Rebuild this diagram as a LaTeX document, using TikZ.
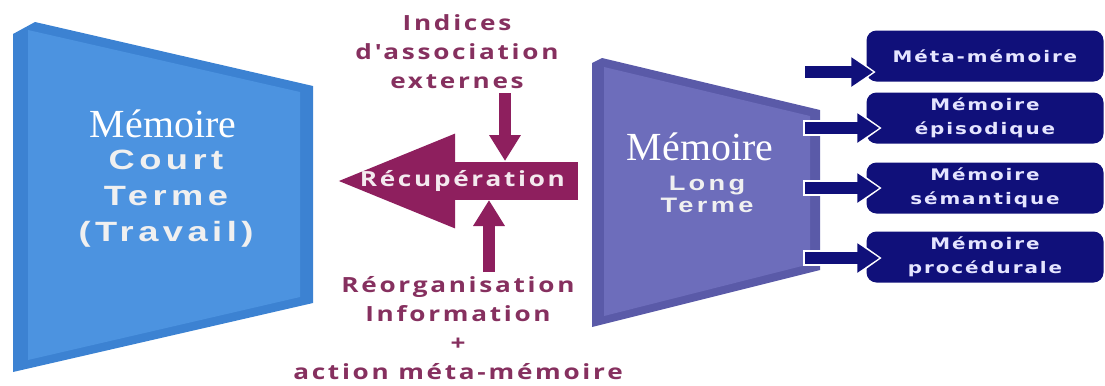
\documentclass[tikz,border=0pt]{standalone}
\usepackage{fontspec}
\setmainfont{Liberation Serif}
\newfontfamily\trapfont{Liberation Sans}[FakeStretch=1.3, LetterSpace=16]
\newfontfamily\cuefont{Open Sans}[FakeStretch=1.25, LetterSpace=13]
\newfontfamily\boxfont{DejaVu Sans}[FakeStretch=1.25, LetterSpace=12]
\usetikzlibrary{arrows.meta,positioning}

\definecolor{stmblue}{HTML}{4C93E0}
\definecolor{stmedge}{HTML}{3C82D2}
\definecolor{ltmviolet}{HTML}{6D6DBB}
\definecolor{ltmedge}{HTML}{5A5AA8}
\definecolor{plum}{HTML}{8E1F5E}
\definecolor{plumtext}{HTML}{86305F}
\definecolor{boxnavy}{HTML}{10107A}

\tikzset{
  title/.style={text=white, font=\fontsize{40}{40}\selectfont, anchor=base},
  traptext/.style={text=white!88!gray, align=center},
  cue/.style={text=plumtext, align=center, font=\cuefont\bfseries\fontsize{21}{29}\selectfont},
  membox/.style={fill=boxnavy, rounded corners=10bp, minimum width=237bp, minimum height=51bp,
    inner sep=0pt, text=white!90!blue, align=center, font=\boxfont\bfseries\fontsize{16}{24}\selectfont},
  feed/.style={draw=boxnavy, line width=12bp, -{Triangle[width=28bp,length=22bp]},
    preaction={draw=white, line width=16bp, -{Triangle[width=36bp,length=27bp]}, shorten >=-2.5bp, shorten <=-2bp}},
  recall/.style={draw=plum, line width=38bp, -{Triangle[width=84bp,length=123bp]}},
  cuearrow/.style={draw=plum, line width=12bp, -{Triangle[width=30bp,length=26bp]}}
}

\begin{document}
\begin{tikzpicture}[x=1bp,y=-1bp]
	\useasboundingbox (0,0) rectangle (1105,385);

	% short term memory
	\fill[stmedge] (13,34) -- (35,22) -- (313,86) -- (313,303) -- (13,372) -- cycle;
	\fill[stmblue] (28,30) -- (300,92) -- (300,297) -- (28,360) -- cycle;
	\node[title] (stm-title) at (163,137) {Mémoire};
	\node[traptext, font=\trapfont\bfseries\fontsize{28}{36}\selectfont] (stm-text) at (166,199) {Court\\Terme\\(Travail)};

	% long term memory
	\fill[ltmedge] (592,63) -- (602,58) -- (820,110) -- (820,270) -- (592,327) -- cycle;
	\fill[ltmviolet] (604,67) -- (810,116) -- (810,264) -- (604,316) -- cycle;
	\node[title] (ltm-title) at (700,160) {Mémoire};
	\node[traptext, font=\trapfont\bfseries\fontsize{21}{22}\selectfont] (ltm-text) at (707,194) {Long\\Terme};

	% memory systems
	\node[membox] (meta) at (985,56)  {Méta-mémoire};
	\node[membox] (epi)  at (985,118) {Mémoire\\épisodique};
	\node[membox] (sem)  at (985,188) {Mémoire\\sémantique};
	\node[membox] (proc) at (985,257) {Mémoire\\procédurale};

	\draw[feed] ([xshift=-61bp,yshift=-16bp]meta.west) -- ([xshift=7bp,yshift=-16bp]meta.west);
	\draw[feed] ([xshift=-61bp,yshift=-10bp]epi.west) -- ([xshift=13bp,yshift=-10bp]epi.west);
	\draw[feed] ([xshift=-61bp]sem.west) -- ([xshift=13bp]sem.west);
	\draw[feed] ([xshift=-61bp,yshift=-1bp]proc.west) -- ([xshift=13bp,yshift=-1bp]proc.west);

	% retrieval
	\coordinate (rec-tail) at (578,181);
	\coordinate (rec-tip)  at (332,181);
	\draw[recall] (rec-tail) -- (rec-tip)
		node[pos=0.47, text=white!90!plum, font=\cuefont\bfseries\fontsize{21}{21}\selectfont] (rec) {Récupération};

	\node[cue] (cues)  at (457,52)  {Indices\\d'association\\externes};
	\node[cue] (reorg) at (458,328) {Réorganisation\\Information\\+\\action méta-mémoire};

	\draw[cuearrow] (505,93) coordinate (cue-out) -- (505,161) coordinate (cue-in);
	\draw[cuearrow] (489,272) coordinate (reorg-out) -- (489,200) coordinate (reorg-in);
\end{tikzpicture}
\end{document}
